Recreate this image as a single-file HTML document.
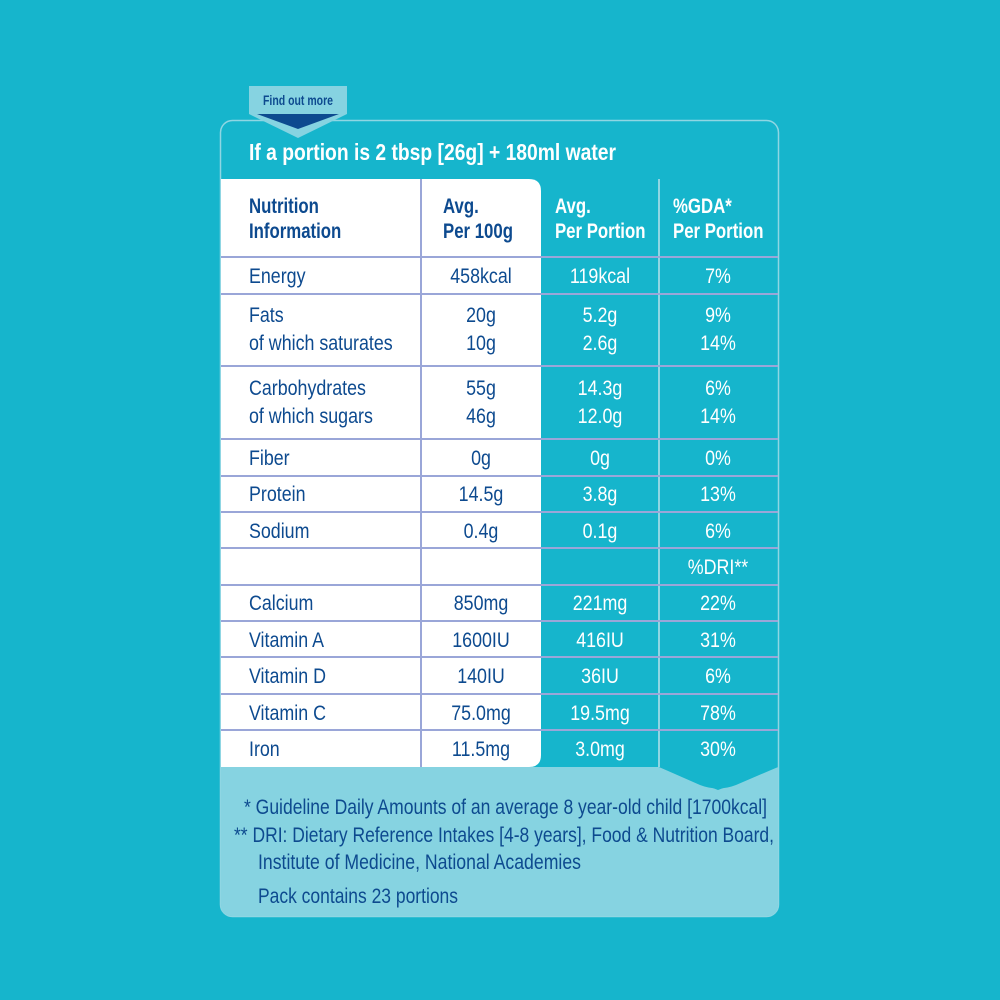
<!DOCTYPE html>
<html><head><meta charset="utf-8"><style>
html,body{margin:0;padding:0;background:#16b5cc;}
svg{display:block}
text{font-family:"Liberation Sans Narrow","Liberation Sans",sans-serif;font-size:21px}
.d{fill:#0d4a8f}.w{fill:#fff}.b{font-weight:bold}
.c{text-anchor:middle}
</style></head><body>
<svg width="1000" height="1000" viewBox="0 0 1000 1000" xmlns="http://www.w3.org/2000/svg">
<rect width="1000" height="1000" fill="#16b5cc"/>
<rect x="220.5" y="120.5" width="558" height="796" rx="12" fill="#16b5cc" stroke="#8fd6e3" stroke-width="1.5"/>
<path d="M221 767 H659 L718 790 L778 767 V904 Q778 916 766 916 H233 Q221 916 221 904 Z" fill="#86d3e1"/>
<path d="M659 767 L700 785 Q718 792 736 785 L778 767" fill="#16b5cc"/>
<path d="M249 86 H347 V114 L298 138 L249 114 Z" fill="#86d3e1"/>
<path d="M257 114 H339 L298 129 Z" fill="#0d4a8f"/>
<text x="298" y="105" class="d b c" style="font-size:14px" textLength="70" lengthAdjust="spacingAndGlyphs">Find out more</text>
<text x="249" y="160" class="w b" style="font-size:23px" textLength="367" lengthAdjust="spacingAndGlyphs">If a portion is 2 tbsp [26g] + 180ml water</text>
<path d="M221 179 H529 Q541 179 541 191 V755 Q541 767 529 767 H221 Z" fill="#fff"/>
<line x1="421" y1="179" x2="421" y2="767" stroke="#9aa6d8" stroke-width="2"/>
<line x1="659" y1="179" x2="659" y2="767" stroke="#8fd6e3" stroke-width="2"/>
<g stroke="#9aa6d8" stroke-width="2">
<line x1="221" y1="257" x2="778" y2="257"/>
<line x1="221" y1="294" x2="778" y2="294"/>
<line x1="221" y1="366" x2="778" y2="366"/>
<line x1="221" y1="439" x2="778" y2="439"/>
<line x1="221" y1="476" x2="778" y2="476"/>
<line x1="221" y1="512" x2="778" y2="512"/>
<line x1="221" y1="548" x2="778" y2="548"/>
<line x1="221" y1="585" x2="778" y2="585"/>
<line x1="221" y1="621" x2="778" y2="621"/>
<line x1="221" y1="657" x2="778" y2="657"/>
<line x1="221" y1="694" x2="778" y2="694"/>
<line x1="221" y1="730" x2="778" y2="730"/>
</g>
<g transform="scale(0.8,1)">
<text x="311.25" y="213" class="d b">Nutrition</text>
<text x="311.25" y="238" class="d b">Information</text>
<text x="553.75" y="213" class="d b">Avg.</text>
<text x="553.75" y="238" class="d b">Per 100g</text>
<text x="693.75" y="213" class="w b">Avg.</text>
<text x="693.75" y="238" class="w b">Per Portion</text>
<text x="841.25" y="213" class="w b">%GDA*</text>
<text x="841.25" y="238" class="w b">Per Portion</text>
</g>
<g transform="scale(0.85,1)">
<text x="292.94" y="283" class="d">Energy</text>
<text x="292.94" y="322" class="d">Fats</text>
<text x="292.94" y="350" class="d">of which saturates</text>
<text x="292.94" y="395" class="d">Carbohydrates</text>
<text x="292.94" y="423" class="d">of which sugars</text>
<text x="292.94" y="465" class="d">Fiber</text>
<text x="292.94" y="501" class="d">Protein</text>
<text x="292.94" y="538" class="d">Sodium</text>
<text x="292.94" y="610" class="d">Calcium</text>
<text x="292.94" y="647" class="d">Vitamin A</text>
<text x="292.94" y="683" class="d">Vitamin D</text>
<text x="292.94" y="720" class="d">Vitamin C</text>
<text x="292.94" y="756" class="d">Iron</text>

<text x="565.88" y="283" class="d c">458kcal</text>
<text x="565.88" y="322" class="d c">20g</text>
<text x="565.88" y="350" class="d c">10g</text>
<text x="565.88" y="395" class="d c">55g</text>
<text x="565.88" y="423" class="d c">46g</text>
<text x="565.88" y="465" class="d c">0g</text>
<text x="565.88" y="501" class="d c">14.5g</text>
<text x="565.88" y="538" class="d c">0.4g</text>
<text x="565.88" y="610" class="d c">850mg</text>
<text x="565.88" y="647" class="d c">1600IU</text>
<text x="565.88" y="683" class="d c">140IU</text>
<text x="565.88" y="720" class="d c">75.0mg</text>
<text x="565.88" y="756" class="d c">11.5mg</text>

<text x="705.88" y="283" class="w c">119kcal</text>
<text x="705.88" y="322" class="w c">5.2g</text>
<text x="705.88" y="350" class="w c">2.6g</text>
<text x="705.88" y="395" class="w c">14.3g</text>
<text x="705.88" y="423" class="w c">12.0g</text>
<text x="705.88" y="465" class="w c">0g</text>
<text x="705.88" y="501" class="w c">3.8g</text>
<text x="705.88" y="538" class="w c">0.1g</text>
<text x="705.88" y="610" class="w c">221mg</text>
<text x="705.88" y="647" class="w c">416IU</text>
<text x="705.88" y="683" class="w c">36IU</text>
<text x="705.88" y="720" class="w c">19.5mg</text>
<text x="705.88" y="756" class="w c">3.0mg</text>

<text x="844.71" y="283" class="w c">7%</text>
<text x="844.71" y="322" class="w c">9%</text>
<text x="844.71" y="350" class="w c">14%</text>
<text x="844.71" y="395" class="w c">6%</text>
<text x="844.71" y="423" class="w c">14%</text>
<text x="844.71" y="465" class="w c">0%</text>
<text x="844.71" y="501" class="w c">13%</text>
<text x="844.71" y="538" class="w c">6%</text>
<text x="844.71" y="574" class="w c">%DRI**</text>
<text x="844.71" y="610" class="w c">22%</text>
<text x="844.71" y="647" class="w c">31%</text>
<text x="844.71" y="683" class="w c">6%</text>
<text x="844.71" y="720" class="w c">78%</text>
<text x="844.71" y="756" class="w c">30%</text>
</g>
<text x="244" y="814" class="d" textLength="523" lengthAdjust="spacingAndGlyphs">* Guideline Daily Amounts of an average 8 year-old child [1700kcal]</text>
<text x="234" y="842" class="d" textLength="540" lengthAdjust="spacingAndGlyphs">** DRI: Dietary Reference Intakes [4-8 years], Food &amp; Nutrition Board,</text>
<text x="258" y="869" class="d" textLength="323" lengthAdjust="spacingAndGlyphs">Institute of Medicine, National Academies</text>
<text x="258" y="903" class="d" textLength="200" lengthAdjust="spacingAndGlyphs">Pack contains 23 portions</text>
</svg>
</body></html>
